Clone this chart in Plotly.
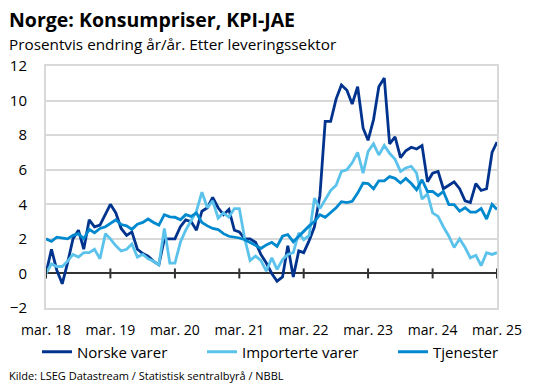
import pandas as pd
import plotly.graph_objects as go

# Monthly data, mar. 2018 - mar. 2025 (percent change y/y)
months = pd.date_range("2018-03-01", periods=85, freq="MS")

norske_varer = [
    0.0, 1.4, 0.2, -0.6, 0.6, 2.0, 2.5, 1.4, 3.1, 2.7, 2.8, 3.4, 4.0, 3.5, 2.6, 2.2,
    2.4, 1.4, 1.15, 1.0, 0.7, 0.5, 2.0, 2.0, 2.0, 2.7, 3.1,
    3.0, 2.5, 3.6, 3.8, 4.4, 3.8, 3.4, 3.7, 2.5, 2.4, 2.0, 2.0, 1.8, 1.1, 0.6, 0.0,
    -0.45, -0.2, 1.6, -0.2, 1.3, 1.2, 1.9, 2.7, 4.5, 8.8, 8.8, 10.1, 10.9, 10.6, 9.8,
    10.8, 8.4, 7.7, 8.9, 10.8, 11.3, 7.5, 7.9, 6.7, 7.1, 7.3, 7.2, 7.4, 5.3, 5.8, 5.9,
    4.9, 5.1, 5.3, 4.9, 4.2, 4.1, 5.2, 4.8, 4.9, 7.0, 7.6,
]

importerte_varer = [
    0.0, 0.55, 0.4, 0.4, 0.7, 1.1, 0.95, 1.2, 1.2, 1.4, 0.85, 2.3, 2.0, 1.6, 1.3, 1.4,
    1.7, 0.95, 1.1, 0.85, 0.7, 0.5, 2.6, 0.6, 0.6, 1.8, 2.5, 3.1, 3.6, 4.7, 3.8, 4.2,
    3.2, 3.5, 3.25, 3.75, 3.75, 2.0, 0.75, 1.0, 0.75, 0.13, 0.9, 0.23, 0.8, 1.1, 1.2,
    2.35, 1.95, 2.2, 4.35, 3.75, 4.3, 4.8, 5.1, 5.9, 6.0, 6.4, 7.0, 5.8, 7.05, 7.5,
    6.85, 7.4, 6.95, 6.6, 5.9, 6.1, 6.2, 5.8, 4.3, 4.6, 3.5, 3.3, 2.7, 2.15, 1.5, 2.0,
    1.5, 0.9, 1.05, 0.45, 1.2, 1.1, 1.2,
]

tjenester = [
    2.0, 1.85, 2.1, 2.05, 2.0, 2.2, 2.3, 2.0, 2.55, 2.35, 2.6, 2.7, 2.9, 3.1, 2.83,
    2.75, 2.55, 2.85, 2.95, 3.15, 2.95, 2.8, 3.4, 3.27, 3.25, 3.1, 3.4, 3.3, 3.5, 2.95,
    2.75, 2.6, 2.54, 2.3, 2.15, 2.1, 2.05, 1.95, 1.8, 1.63, 1.44, 1.65, 1.8, 1.56, 2.15,
    2.25, 1.83, 2.15, 2.44, 2.75, 3.0, 3.4, 3.25, 3.5, 3.8, 4.15, 4.1, 4.17, 4.65, 5.23,
    5.2, 4.9, 5.36, 5.36, 5.6, 5.5, 5.23, 5.5, 5.2, 4.84, 5.42, 4.74, 4.74, 4.5, 4.74,
    3.98, 3.98, 3.6, 3.8, 3.55, 3.55, 3.75, 3.15, 4.0, 3.7,
]

series_names = ["Norske varer", "Importerte varer", "Tjenester"]
series_colors = ["#00338D", "#5BC3EB", "#0089CF"]

tick_dates = pd.date_range("2018-03-01", "2025-03-01", freq="12MS")
tick_labels = ["mar. 18", "mar. 19", "mar. 20", "mar. 21",
               "mar. 22", "mar. 23", "mar. 24", "mar. 25"]

title_text = "Norge: Konsumpriser, KPI-JAE"
subtitle_text = "Prosentvis endring år/år. Etter leveringssektor"
source_text = "Kilde: LSEG Datastream / Statistisk sentralbyrå / NBBL"

FONT = "Open Sans, Noto Sans, DejaVu Sans, sans-serif"

L, R, T, B = 46, 37, 66, 80
W, H = 534, 388
pw, ph = W - L - R, H - T - B


def px_x(p):
    return (p - L) / pw


def px_y(p):
    return (H - B - p) / ph


legend_ids = ["legend", "legend2", "legend3"]
legend_left_px = [37, 202, 393]

fig = go.Figure()
for name, vals, col, lid in zip(series_names,
                                [norske_varer, importerte_varer, tjenester],
                                series_colors, legend_ids):
    fig.add_trace(go.Scatter(x=months, y=vals, mode="lines", name=name,
                             legend=lid, line=dict(color=col, width=2.8)))

# cross tick marks on the zero line
for d in tick_dates:
    fig.add_shape(type="line", xref="x", yref="y", x0=d, x1=d,
                  ysizemode="pixel", yanchor=0, y0=-5, y1=5,
                  line=dict(color="#333333", width=2), layer="above")

legend_layout = {}
for lid, lx in zip(legend_ids, legend_left_px):
    legend_layout[lid] = dict(orientation="h", x=px_x(lx), xanchor="left",
                              y=px_y(352), yanchor="middle",
                              font=dict(size=15), bgcolor="rgba(0,0,0,0)",
                              borderwidth=0)

fig.update_layout(
    width=W, height=H,
    margin=dict(l=L, r=R, t=T, b=B, autoexpand=False),
    paper_bgcolor="white", plot_bgcolor="white",
    font=dict(family=FONT, color="#000000", size=14),
    showlegend=True,
    xaxis=dict(range=[months[0], months[-1]], tickvals=tick_dates,
               ticktext=tick_labels, showgrid=False, ticks="",
               showline=True, mirror=True, linecolor="#d9d9d9", linewidth=2,
               tickfont=dict(size=14), ticklabelstandoff=8, zeroline=False),
    yaxis=dict(range=[-2, 12], dtick=2, showgrid=True, gridcolor="#d9d9d9",
               gridwidth=1.5, showline=True, mirror=True, linecolor="#d9d9d9",
               linewidth=2, zeroline=True, zerolinecolor="#333333",
               zerolinewidth=2.2, tickfont=dict(size=15), ticks="",
               ticklabelstandoff=14),
    annotations=[
        dict(text="<b>" + title_text + "</b>", xref="paper", yref="paper",
             x=px_x(7), y=px_y(19), xanchor="left", yanchor="middle",
             showarrow=False, font=dict(size=19.5)),
        dict(text=subtitle_text, xref="paper", yref="paper",
             x=px_x(7), y=px_y(44), xanchor="left", yanchor="middle",
             showarrow=False, font=dict(size=15.3)),
        dict(text=source_text, xref="paper", yref="paper",
             x=px_x(7), y=px_y(375), xanchor="left", yanchor="middle",
             showarrow=False, font=dict(size=11)),
    ],
    **legend_layout,
)

fig.write_html("out.html",
               config={"displayModeBar": False},
               post_script="document.body.style.margin='0';")
